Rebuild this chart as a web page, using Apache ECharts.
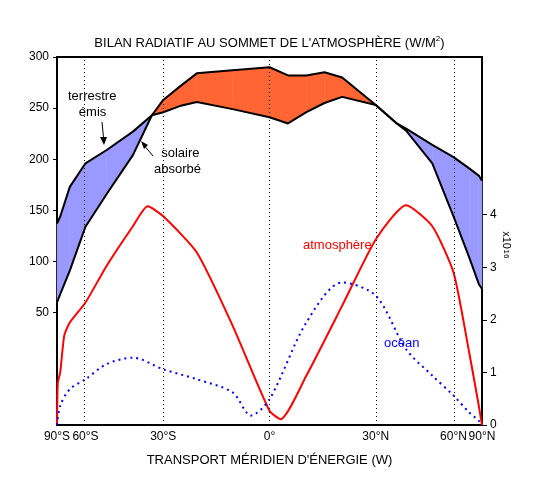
<!DOCTYPE html><html><head><meta charset="utf-8">
<script src="https://cdn.jsdelivr.net/npm/echarts@6/dist/echarts.min.js"></script>
<style>html,body{margin:0;background:#fff}#c{width:539px;height:497px}</style></head><body><div id="c"></div>
<script>
var lats = [-90,-80,-70,-60,-50,-40,-33.6,-30,-25,-20,-10,0,5,10,15,20,30,36.8,40,50,60,70,80,90];
var terrestre = [137,144,173,196,209,227,243,246,252,256,249,241,235,246,255,261,253,235,230,214,202,191,184,179];
var solaire   = [60,68,91,134,166,204,243,258,271,284,287,290,282,282,285,280,253,235,228,196,144,104,78,73];
var atmLats = [-90,-85,-80,-75,-70,-60,-50,-40,-35,-30,-20,-10,0,3,10,20,30,40,50,60,70,80,90];
var atmosphere = [0,0.8,1.0,1.7,1.95,2.33,3.03,3.78,4.16,3.97,3.28,1.89,0.27,0.11,0.94,2.27,3.53,4.18,3.78,2.9,1.38,0.37,0];
var oceanLats = [-90,-80,-70,-60,-50,-40,-30,-20,-10,-5,0,10,20,30,40,50,60,70,80,90];
var ocean = [0,0.37,0.68,0.87,1.16,1.28,1.06,0.87,0.62,0.18,0.49,1.95,2.71,2.46,1.44,0.94,0.56,0.24,0.08,0];
var tickLats = [-90,-60,-30,0,30,60,90];
var tickNames = ['90°S','60°S','30°S','0°','30°N','60°N','90°N'];
var leftTicks = [50,100,150,200,250,300];
var rightTicks = [0,1,2,3,4];

function sx(l){return Math.sin(l*Math.PI/180);}
var F='Liberation Sans, Arial, sans-serif';
var segs=[];
for(var i=0;i<lats.length-1;i++){segs.push([sx(lats[i]),terrestre[i],solaire[i],sx(lats[i+1]),terrestre[i+1],solaire[i+1]]);}
var tickVals=tickLats.map(sx);
var chart=echarts.init(document.getElementById('c'));
chart.setOption({
  animation:false,
  title:{text:"BILAN RADIATIF AU SOMMET DE L'ATMOSPHÈRE (W/M{s|2})",left:'center',top:30,
    textStyle:{fontFamily:F,fontSize:13,fontWeight:'normal',color:'#000',rich:{s:{fontSize:8,verticalAlign:'top',padding:[0,0,8,0]}}}},
  grid:{left:57,right:57,top:57,bottom:72,show:true,borderColor:'#000',borderWidth:2},
  xAxis:{type:'value',min:-1,max:1,
    axisLine:{onZero:false,lineStyle:{color:'#000',width:2}},splitLine:{show:false},
    axisTick:{show:false},
    axisLabel:{customValues:tickVals,formatter:function(v){var i=tickVals.findIndex(function(t){return Math.abs(t-v)<1e-6});return i>=0?tickNames[i]:'';},
      fontFamily:F,fontSize:12,color:'#000',margin:6}},
  yAxis:[{type:'value',min:-60,max:300,position:'left',
    axisLine:{show:true,onZero:false,lineStyle:{color:'#000',width:2}},splitLine:{show:false},
    axisTick:{show:true,customValues:leftTicks,length:4,lineStyle:{color:'#000'}},
    axisLabel:{customValues:leftTicks,fontFamily:F,fontSize:12,color:'#000',margin:8}},
   {type:'value',min:0,max:7,position:'right',
    axisLine:{show:true,onZero:false,lineStyle:{color:'#000',width:2}},splitLine:{show:false},
    axisTick:{show:true,customValues:rightTicks,length:5,lineStyle:{color:'#000'}},
    axisLabel:{customValues:rightTicks,fontFamily:F,fontSize:12,color:'#000',margin:8}}],
  series:[
    {type:'custom',data:segs,z:1,silent:true,encode:{x:[0,3],y:[1,2,4,5]},
     renderItem:function(p,api){
       var a=api.coord([api.value(0),api.value(1)]),b=api.coord([api.value(3),api.value(4)]),
           c=api.coord([api.value(3),api.value(5)]),d=api.coord([api.value(0),api.value(2)]);
       var up=(api.value(1)+api.value(4))>(api.value(2)+api.value(5));
       return {type:'polygon',shape:{points:[a,b,c,d]},style:{fill:up?'#9999ff':'#ff6633',stroke:up?'#9999ff':'#ff6633',lineWidth:0.5}};
     }},
    {type:'line',data:lats.map(function(l,i){return [sx(l),terrestre[i]];}),symbol:'none',lineStyle:{color:'#000',width:2},z:3,
      markLine:{silent:true,symbol:'none',label:{show:false},lineStyle:{color:'#000',type:[1,3],width:1},
        data:[-60,-30,0,30,60].map(function(l){return {xAxis:sx(l)};})}},
    {type:'line',data:lats.map(function(l,i){return [sx(l),solaire[i]];}),symbol:'none',lineStyle:{color:'#000',width:2},z:3},
    {type:'line',yAxisIndex:1,data:atmLats.map(function(l,i){return [sx(l),atmosphere[i]];}),symbol:'none',smooth:0.2,lineStyle:{color:'#ff0000',width:2},z:4},
    {type:'line',yAxisIndex:1,data:oceanLats.map(function(l,i){return [sx(l),ocean[i]];}),symbol:'none',smooth:0.3,lineStyle:{color:'#0000ff',width:2,type:[2,4]},z:4}
  ],
  graphic:[
    {type:'text',left:68,top:88,style:{text:'terrestre\n   émis',font:'13px '+F,fill:'#000',lineHeight:16}},
    {type:'line',shape:{x1:102,y1:122,x2:104,y2:143},style:{stroke:'#000',lineWidth:1}},
    {type:'polygon',shape:{points:[[100,137],[107,137],[104,145]]},style:{fill:'#000'}},
    {type:'text',left:154,top:145,style:{text:'  solaire\nabsorbé',font:'13px '+F,fill:'#000',lineHeight:16}},
    {type:'line',shape:{x1:153,y1:156,x2:143,y2:144},style:{stroke:'#000',lineWidth:1}},
    {type:'polygon',shape:{points:[[141,141],[148,145],[144,149]]},style:{fill:'#000'}},
    {type:'text',left:303,top:239,style:{text:'atmosphère',font:'13px '+F,fill:'#ff0000'}},
    {type:'text',left:384,top:337,style:{text:'océan',font:'13px '+F,fill:'#0000ff'}},
    {type:'text',x:506,y:240,rotation:-Math.PI/2,style:{text:'x10',font:'11px '+F,fill:'#000',align:'center',verticalAlign:'middle'}},
    {type:'text',x:506,y:254,rotation:-Math.PI/2,style:{text:'16',font:'8px '+F,fill:'#000',align:'center',verticalAlign:'middle'}},
    {type:'text',left:'center',top:454,style:{text:"TRANSPORT MÉRIDIEN D'ÉNERGIE (W)",font:'13px '+F,fill:'#000'}}
  ]
});
</script></body></html>
